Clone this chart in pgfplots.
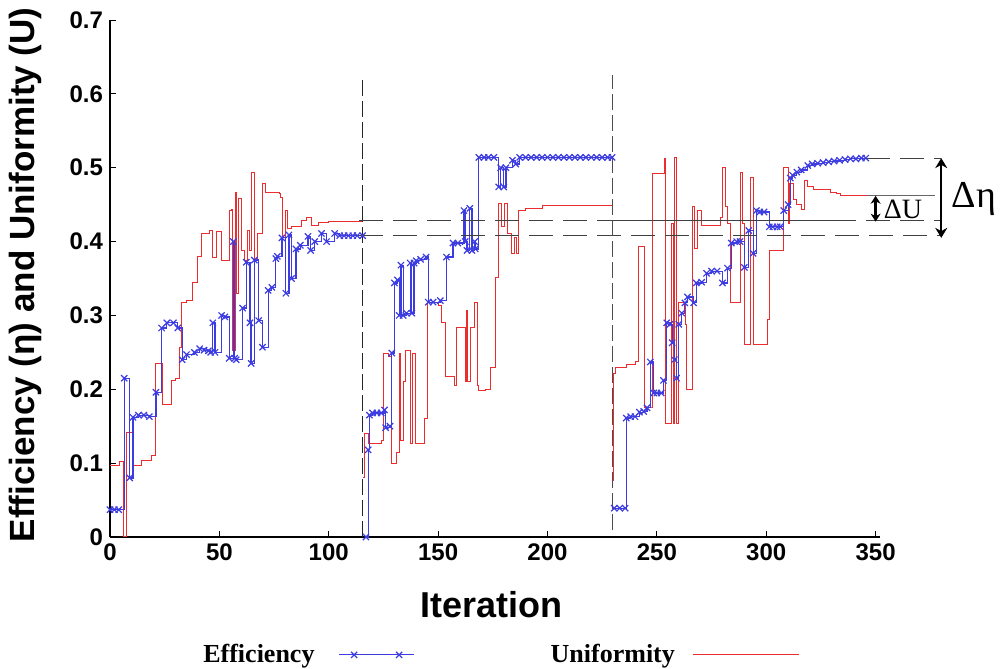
\documentclass[border=0pt]{standalone}
\usepackage{fontspec}
\setmainfont{Liberation Sans}
\newfontfamily\serif{Liberation Serif}
\usepackage{pgfplots}
\pgfplotsset{compat=1.18}
\usetikzlibrary{arrows.meta}
\definecolor{effblue}{RGB}{60,60,225}
\definecolor{unired}{RGB}{235,45,45}
\begin{document}
\begin{tikzpicture}
\begin{axis}[
  at={(0,0)}, anchor=south west,
  scale only axis, width=385pt, height=258.5pt,
  xmin=0, xmax=352, ymin=0, ymax=0.7,
  axis x line*=bottom, axis y line*=left,
  axis line style={-, line width=0.6pt},
  xtick={0,50,100,150,200,250,300,350},
  ytick={0,0.1,0.2,0.3,0.4,0.5,0.6,0.7},
  yticklabel style={/pgf/number format/.cd, fixed, precision=1},
  tick align=inside, major tick length=3pt,
  tick style={black, line width=0.5pt},
  /pgf/number format/assume math mode=true,
  ticklabel style={font=\bfseries\fontsize{12}{12}\selectfont},
  xlabel={Iteration},
  xlabel style={font=\bfseries\fontsize{18}{18}\selectfont, at={(axis description cs:0.496,-0.1315)}, anchor=center},
  ylabel={Efficiency (η) and Uniformity (U)},
  ylabel style={font=\bfseries\fontsize{17.5}{17.5}\selectfont, at={(axis description cs:-0.1104,0.507)}, anchor=center},
  clip=false,
  unbounded coords=jump,
  reverse legend,
  legend columns=2,
  legend plot pos=right,
  legend style={draw=none, fill=none, font=\serif\bfseries\fontsize{13}{13}\selectfont,
    at={(axis description cs:0.506,-0.228)}, anchor=center},
  legend image code/.code={\draw[#1, mark repeat=2, mark phase=2] plot coordinates {(0pt,0pt) (7.5pt,0pt) (18.75pt,0pt) (30pt,0pt) (37.5pt,0pt)};},
]
% Uniformity (red)
\addplot[const plot, color=unired, line width=0.5pt,
  legend image code/.code={\draw[unired, line width=0.5pt] (0pt,0pt) -- (53pt,0pt);}] coordinates {
(0,0.097) (4.5,0.102) (6.4,0) (7.7,0.142) (9.5,0.142) (10.5,0.097) (14.5,0.103) (19,0.11) (21,0.235) (22.7,0.235) (24,0.18) (26.4,0.18) (28,0.212) (30,0.215) (31.8,0.257) (32.9,0.318) (35,0.32) (37.7,0.344) (40,0.38) (41.8,0.411) (45.5,0.415) (46.8,0.378) (48.6,0.413) (51,0.375) (54,0.375) (54.5,0.442) (55.5,0.443) (56,0.253) (57.3,0.467) (57.7,0.33) (58.6,0.458) (60,0.388) (61.4,0.375) (62.8,0.415) (63.6,0.388) (64.5,0.494) (66,0.375) (67.3,0.411) (69.5,0.479) (71.2,0.467) (74,0.466) (77.3,0.465) (78,0.46) (78.7,0.406) (80.4,0.442) (81,0.418) (83,0.42) (85,0.42) (87.5,0.428) (90,0.432) (92,0.422) (95.5,0.426) (100,0.427) (110.5,0.427) (115.5,0.428)
(115.7,nan)
(115.8,0.08) (116.2,0.14) (118,0.127) (124,0.13) (125,0.249) (127.5,0.245) (128.8,0.10) (131,0.114) (132.2,0.249) (133,0.13) (134,0.21) (135,0.253) (137,0.253) (137.2,0.127) (138.5,0.249) (139.5,0.127) (142,0.127) (143.6,0.16) (145,0.317) (150,0.314) (151.4,0.29) (153.2,0.217) (156,0.217) (157.5,0.205) (158.2,0.284) (161.8,0.284) (162.3,0.21) (163,0.307) (163.6,0.21) (165,0.284) (166.4,0.318) (168,0.205) (168.6,0.199) (171.8,0.20) (174,0.23) (176,0.352) (177.7,0.452) (179,0.42) (180.5,0.452) (181.8,0.411) (183.6,0.384) (185,0.405) (186,0.384) (186.8,0.442) (190,0.445) (197.7,0.449) (229.5,0.45)
(229.6,nan)
(229.7,0.077) (230.2,0.222) (231,0.23) (236,0.234) (240,0.237) (241.8,0.393) (243.8,0.393) (244.5,0.176) (247.5,0.176) (248,0.492) (251.5,0.492) (253.6,0.513) (254,0.154) (256.8,0.425) (257.6,0.154) (258,0.514) (259,0.154) (260,0.317) (262,0.317) (263,0.288) (263.6,0.20) (266.4,0.447) (267.3,0.39) (268.6,0.442) (270.5,0.422) (278,0.422) (279,0.433) (280,0.50) (281.4,0.447) (282.3,0.425) (283.6,0.317) (288.2,0.494) (289,0.425) (290,0.26) (293,0.487) (294,0.26) (300.5,0.294) (301.4,0.388) (307.7,0.50) (310,0.425) (310.5,0.479) (312.3,0.457) (314,0.45) (316,0.444) (317.3,0.483) (319,0.474) (321.5,0.47) (329.5,0.467) (332,0.465) (334,0.463) (346,0.463)
};
\addlegendentry{\hspace*{66pt}Uniformity\kern7pt}
% Efficiency (blue)
\addplot[const plot, color=effblue, line width=0.6pt, mark=x, mark size=2.2pt, mark options={solid, line width=0.6pt}] coordinates {
(0,0.037) (2,0.037) (4,0.037) (6.5,0.215) (9,0.08) (10.5,0.162) (13,0.165) (15.5,0.165) (18,0.163) (21,0.196) (23.6,0.283) (26,0.29) (29,0.29) (31,0.283) (33,0.24) (35,0.247) (38.6,0.25) (41,0.255) (43,0.253) (45,0.252) (46,0.25) (47,0.29) (48,0.25) (51,0.30) (52.5,0.298) (54.5,0.242) (56.4,0.40) (57,0.242) (57.7,0.24) (60.6,0.31) (62.3,0.372) (64,0.29) (64.5,0.235) (66,0.375) (68,0.293) (69.7,0.257) (72.3,0.334) (74,0.338) (75.8,0.377) (76.5,0.38) (78.6,0.405) (80.4,0.33) (81.8,0.409) (83,0.35) (85,0.39) (87,0.395) (90.5,0.407) (91.7,0.388) (93.6,0.40) (96.7,0.411) (99,0.40) (102.7,0.411) (105,0.408) (107,0.408) (109,0.408) (111,0.408) (113,0.408) (115.5,0.408)
(116,nan)
(117,0) (118,0.118) (118.6,0.165) (120,0.168) (122,0.168) (124,0.168) (125.5,0.172) (126,0.148) (128,0.15) (128.8,0.249) (130,0.344) (131.4,0.348) (132.2,0.30) (133,0.368) (134,0.30) (135.5,0.303) (137.2,0.371) (138,0.303) (139,0.371) (140,0.374) (142,0.376) (144.5,0.379) (145.5,0.318) (147.7,0.318) (151,0.32) (153.8,0.379) (156.8,0.398) (159,0.398) (161.8,0.442) (162.4,0.40) (163.2,0.388) (164.5,0.445) (165.5,0.388) (166.7,0.40) (167,0.39) (168.6,0.514) (171,0.514) (173,0.514) (175.5,0.514) (177.7,0.474) (178.6,0.50) (180,0.474) (181,0.50) (184,0.51) (185.5,0.505) (187.3,0.514) (190,0.514) (192.5,0.514) (195,0.514) (197.5,0.514) (200,0.514) (202.5,0.514) (205,0.514) (207.5,0.514) (210,0.514) (212.5,0.514) (215,0.514) (217.5,0.514) (220,0.514) (222.5,0.514) (225,0.514) (227.5,0.514) (229.5,0.514)
(230,nan)
(230.5,0.039) (233,0.039) (235.5,0.039) (236,0.161) (238,0.163) (240,0.163) (242,0.169) (244,0.17) (245.5,0.175) (247,0.237) (248.6,0.195) (250,0.195) (252,0.195) (253,0.212) (254.5,0.29) (256,0.288) (257,0.263) (258,0.24) (259,0.215) (260,0.288) (261.4,0.303) (262.8,0.317) (264,0.325) (266.8,0.317) (268,0.344) (270.5,0.345) (272.7,0.357) (275,0.36) (277.5,0.36) (280,0.344) (282.3,0.364) (284,0.398) (286.5,0.40) (288,0.40) (290,0.365) (292,0.415) (294,0.384) (295.5,0.442) (297,0.44) (299,0.44) (301.4,0.42) (303,0.42) (305,0.42) (306.4,0.42) (308,0.442) (310,0.45) (311,0.486) (312,0.49) (314,0.494) (316,0.497) (319,0.503) (321,0.505) (323.5,0.506) (326,0.507) (328.5,0.508) (331,0.509) (333.5,0.51) (336,0.511) (338.5,0.512) (341,0.512) (343.5,0.513) (345.5,0.513)
};
\addlegendentry{Efficiency\kern10pt}
% separators and annotation lines
\draw[black!85, line width=0.5pt, dash pattern=on 8pt off 2.5pt] (axis cs:115.5,0) -- (axis cs:115.5,0.625);
\draw[black!70, line width=0.4pt, dash pattern=on 8pt off 2.5pt] (axis cs:229.5,0.01) -- (axis cs:229.5,0.625);
\draw[black!75, line width=0.5pt, dash pattern=on 12pt off 5pt] (axis cs:114,0.428) -- (axis cs:229.5,0.428);
\draw[black!75, line width=0.4pt] (axis cs:229.5,0.428) -- (axis cs:330,0.428);
\draw[black!75, line width=0.5pt, dash pattern=on 12pt off 5pt] (axis cs:330,0.428) -- (axis cs:380,0.428);
\draw[black!75, line width=0.5pt, dash pattern=on 12pt off 5pt] (axis cs:114,0.408) -- (axis cs:380,0.408);
\draw[black!75, line width=0.4pt, dash pattern=on 12pt off 5pt] (axis cs:345.5,0.513) -- (axis cs:380,0.513);
\draw[black!60, line width=0.4pt] (axis cs:346,0.463) -- (axis cs:377,0.463);
\draw[{Stealth[length=4pt,width=5pt]}-{Stealth[length=4pt,width=5pt]}, line width=1.2pt] (axis cs:350,0.462) -- (axis cs:350,0.427);
\draw[{Stealth[length=5pt,width=6pt]}-{Stealth[length=5pt,width=6pt]}, line width=1.2pt] (axis cs:380,0.513) -- (axis cs:380,0.405);
\node[font=\serif\fontsize{14}{14}\selectfont] at (axis cs:362.5,0.443) {ΔU};
\node[font=\serif\fontsize{19}{19}\selectfont] at (axis cs:395,0.458) {Δη};
\end{axis}
\pgfresetboundingbox
\path (-55pt,-66pt) rectangle (446.5pt,268.5pt);
\end{tikzpicture}
\end{document}
